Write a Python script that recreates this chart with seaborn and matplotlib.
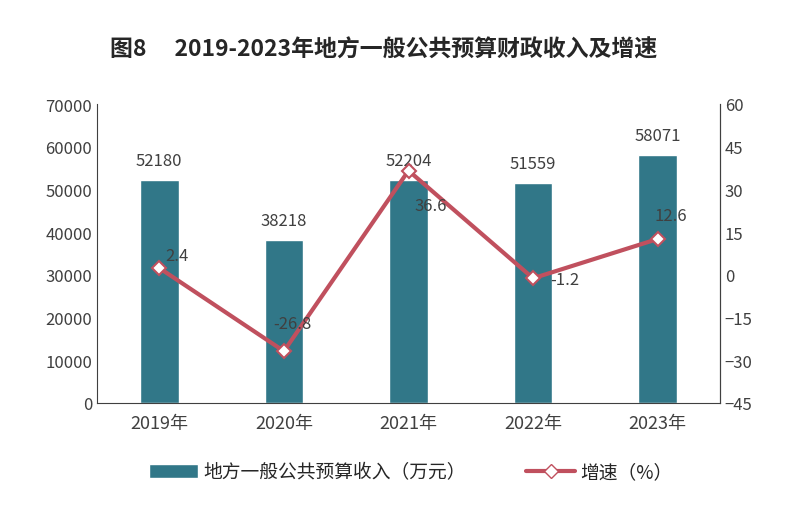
import matplotlib
matplotlib.use("Agg")
import matplotlib.pyplot as plt
import seaborn as sns
import pandas as pd
from matplotlib.lines import Line2D
from matplotlib.patches import Patch

years = ["2019年", "2020年", "2021年", "2022年", "2023年"]
revenue = [52180, 38218, 52204, 51559, 58071]
growth = [2.4, -26.8, 36.6, -1.2, 12.6]
growth_labels = ["2.4", "-26.8", "36.6", "-1.2", "12.6"]

bar_color = "#317788"
line_color = "#C0505E"

sns.set_theme(style="white")
plt.rcParams['font.family'] = ['Noto Sans CJK SC', 'DejaVu Sans']

df = pd.DataFrame({"year": years, "revenue": revenue, "growth": growth})

fig = plt.figure(figsize=(7.98, 5.06), dpi=100)
ax = fig.add_axes([97/798, 1 - 404/506, 623/798, 299/506])

sns.barplot(data=df, x="year", y="revenue", color=bar_color, width=0.31,
            saturation=1, ax=ax)
ax.set_ylim(0, 70000)
ax.set_yticks(range(0, 70001, 10000))
ax.set_xlim(-0.5, 4.5)
ax.set_xlabel("")
ax.set_ylabel("")
ax.tick_params(axis="y", labelsize=12, colors="#404040", length=0)
ax.tick_params(axis="x", labelsize=13, colors="#404040", length=0, pad=8)
ax.spines["top"].set_visible(False)
for s in ["left", "bottom", "right"]:
    ax.spines[s].set_color("#404040")
    ax.spines[s].set_linewidth(0.8)

# bar value labels
for i, v in enumerate(revenue):
    ax.text(i, v + 2500, str(v), ha="center", va="bottom", fontsize=12, color="#404040")

ax2 = ax.twinx()
sns.lineplot(x=list(range(len(years))), y=growth, ax=ax2, color=line_color,
             linewidth=3, marker="D", markersize=7, markerfacecolor="white",
             markeredgecolor=line_color, markeredgewidth=1.5)
ax2.set_ylim(-45, 60)
ax2.set_yticks(range(-45, 61, 15))
ax2.tick_params(axis="y", labelsize=12, colors="#404040", length=0)
ax2.spines["top"].set_visible(False)
ax2.spines["right"].set_color("#404040")
ax2.spines["right"].set_linewidth(0.8)
ax2.spines["left"].set_visible(False)
ax2.spines["bottom"].set_visible(False)

# growth labels, offsets in points (dx, dy)
offsets = [(4, 9), (-8, 20), (4, -25), (12, -1), (-2, 17)]
for i, (g, lab) in enumerate(zip(growth, growth_labels)):
    dx, dy = offsets[i]
    ax2.annotate(lab, (i, g), xytext=(dx, dy), textcoords="offset points",
                 ha="left", va="center", fontsize=12, color="#404040")

fig.text(384/798, 1 - 50/506, "图8　 2019-2023年地方一般公共预算财政收入及增速",
         ha="center", va="center", fontsize=16.5, fontweight="bold", color="#262626")

handles = [Patch(facecolor=bar_color, label="地方一般公共预算收入（万元）"),
           Line2D([0], [0], color=line_color, linewidth=3, marker="D", markersize=7,
                  markerfacecolor="white", markeredgecolor=line_color, label="增速（%）")]
fig.legend(handles=handles, loc="center", bbox_to_anchor=(411/798, 1 - 473/506), ncol=2,
           frameon=False, fontsize=13.5, handlelength=2.6, handletextpad=0.3,
           columnspacing=3.2)

fig.savefig("out.png", dpi=100)
